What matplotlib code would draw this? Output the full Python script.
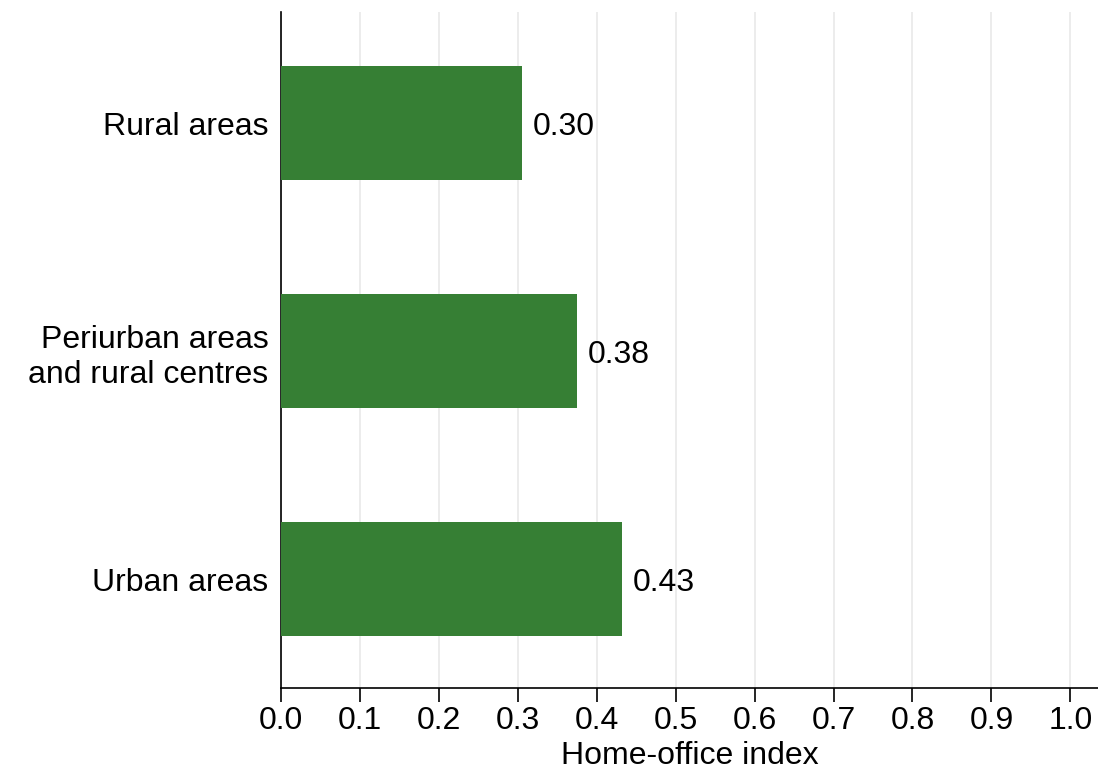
import matplotlib.pyplot as plt

plt.rcParams['font.family'] = ['Liberation Sans', 'DejaVu Sans']

categories = ['Urban areas', 'Periurban areas\nand rural centres', 'Rural areas']
values = [0.432, 0.375, 0.305]
labels = ['0.43', '0.38', '0.30']
xticks = [0.0, 0.1, 0.2, 0.3, 0.4, 0.5, 0.6, 0.7, 0.8, 0.9, 1.0]

fs = 23

fig = plt.figure(figsize=(10.98, 7.72), dpi=100)
ax = fig.add_axes([281 / 1098, 1 - 688 / 772, (1098 - 281) / 1098, (688 - 12) / 772])

ypos = range(len(categories))
ax.barh(ypos, values, height=0.5, color='#367f34', zorder=3)
for y, v, t in zip(ypos, values, labels):
    ax.text(v + 0.014, y, t, va='center_baseline', ha='left', fontsize=fs)

ax.set_xlim(0, 1.035)
ax.set_ylim(-0.478, 2.487)
ax.set_xticks(xticks)
ax.set_xticklabels([f'{x:.1f}' for x in xticks], fontsize=fs)
ax.set_yticks(list(ypos))
ax.set_yticklabels(categories, fontsize=fs, linespacing=1.25)
ax.tick_params(axis='y', length=0, pad=9)
ax.tick_params(axis='x', length=10, width=1.2, pad=3)
ax.set_xlabel('Home-office index', fontsize=fs)
ax.xaxis.set_label_coords(0.5, -0.079)
ax.xaxis.grid(True, color='#ebebeb', linewidth=1.3, zorder=0)
for s in ['top', 'right']:
    ax.spines[s].set_visible(False)
for s in ['left', 'bottom']:
    ax.spines[s].set_linewidth(1.2)

plt.savefig('out.png', dpi=100)
